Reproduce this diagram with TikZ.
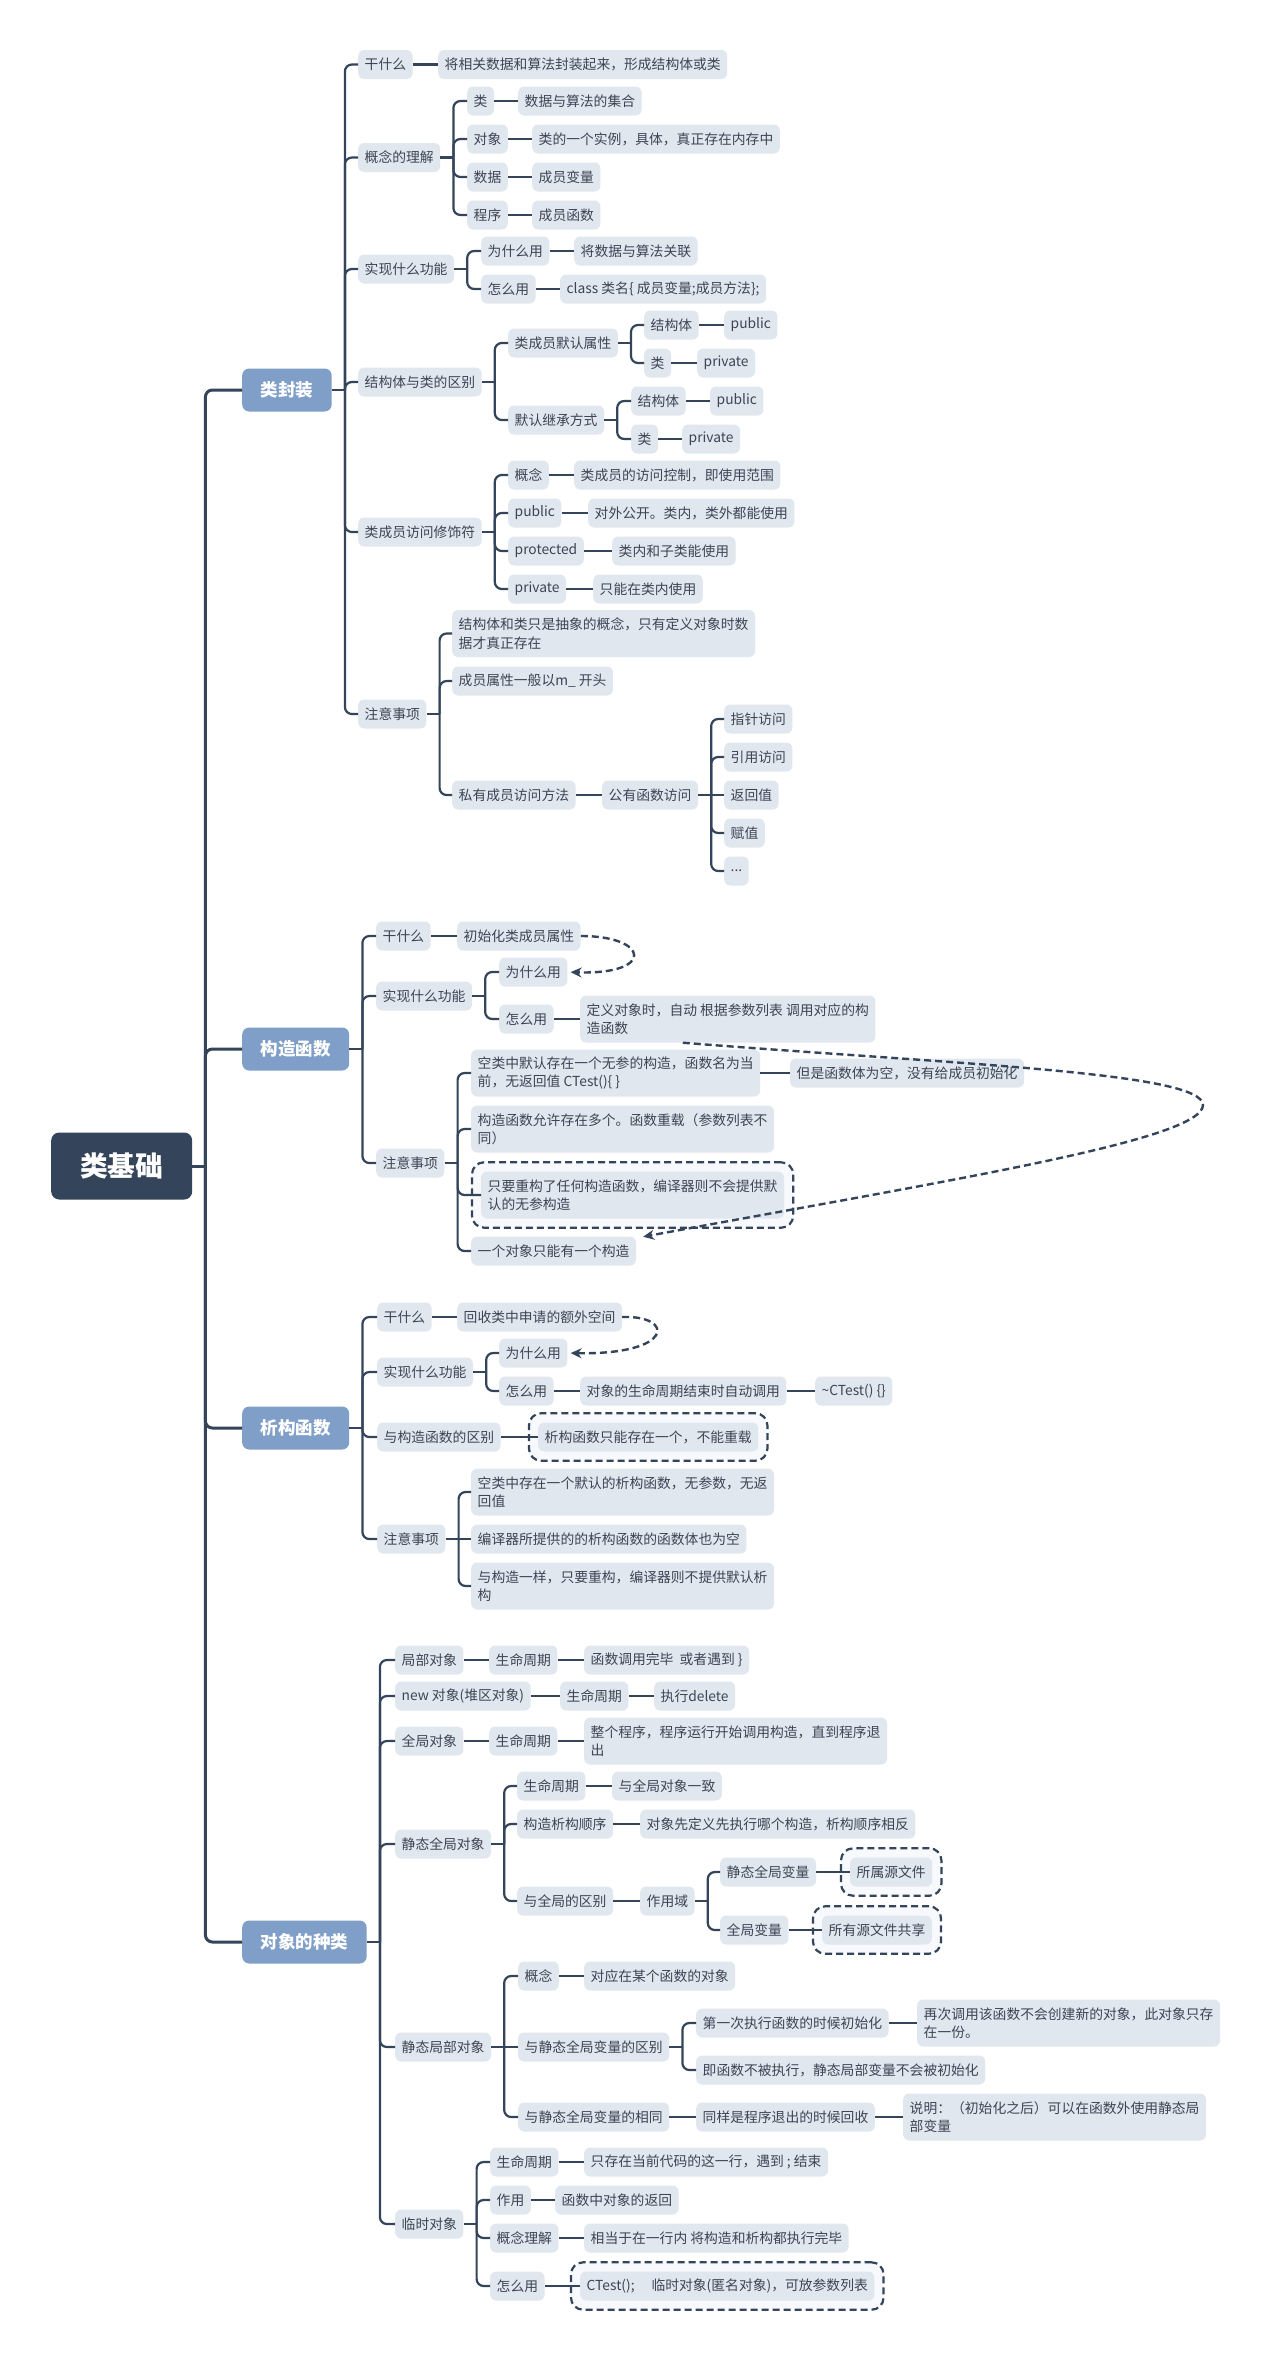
\documentclass[tikz,border=0pt]{standalone}
\usepackage{fontspec}
\newfontfamily\cjk{Noto Sans CJK SC}
\usetikzlibrary{arrows.meta,fit,backgrounds}

\definecolor{ink}{HTML}{34455B}
\definecolor{tx}{HTML}{3B4554}
\definecolor{pale}{HTML}{E1E7EF}
\definecolor{mid}{HTML}{809FC8}
\definecolor{bndfill}{HTML}{F7F9FC}

\pgfdeclarelayer{paper}
\pgfsetlayers{paper,background,main}

\newdimen\kidya
\newdimen\kidyb
% parent -> junction -> every child, with rounded elbows
\newcommand\kids[3][conn]{%
  \draw[#1] (#2.east) -- ++(13,0) coordinate (#2-j);
  \pgfextracty{\kidya}{\pgfpointanchor{#2}{east}}%
  \foreach \kid in {#3}{%
    \pgfextracty{\kidyb}{\pgfpointanchor{\kid}{west}}%
    \pgfmathtruncatemacro\flatkid{abs(\kidya-\kidyb)<3}%
    \ifnum\flatkid=1
      \draw[#1] (#2-j) -- (\kid.west);%
    \else
      \draw[#1,rounded corners=7pt] (#2-j) |- (\kid.west);%
    \fi}%
}
% a single child on the same line
\newcommand\link[2]{\draw[conn] (#1.east) -- (#2.west);}

\begin{document}
\begin{tikzpicture}[x=1pt,y=-1pt,
  leaf/.style={anchor=west, fill=pale, rounded corners=6pt, text=tx,
    font=\cjk\fontsize{13.8}{18.3}\selectfont, inner xsep=6.5pt, inner ysep=3pt,
    minimum height=29pt, align=left},
  tall/.style={minimum height=47pt},
  topic/.style={anchor=west, fill=mid, rounded corners=7pt, text=white,
    font=\cjk\bfseries\fontsize{17.5}{20}\selectfont, minimum height=43pt, inner xsep=18.5pt},
  rootbox/.style={anchor=west, fill=ink, rounded corners=8pt, text=white,
    font=\cjk\bfseries\fontsize{27.7}{30}\selectfont, minimum height=67pt, minimum width=141pt},
  conn/.style={draw=ink, line width=2.2pt},
  trunk/.style={draw=ink, line width=3pt},
  bnd/.style={draw=ink, fill=bndfill, line width=2.2pt, dash pattern=on 7pt off 4pt,
    rounded corners=12pt, inner sep=9pt},
  rel/.style={draw=ink, line width=2.4pt, dash pattern=on 7pt off 4pt,
    -{Stealth[length=11pt,width=10pt]}, shorten >=3pt}
]
\begin{pgfonlayer}{paper}
\fill[white] (0,0) rectangle (1270,2361);
\end{pgfonlayer}
\useasboundingbox (0,0) rectangle (1270,2361);

% ---------- root and main topics ----------
\node[rootbox] (root) at (51,1166) {类基础};
\node[topic] (A) at (242,390) {类封装};
\node[topic] (B) at (242,1049) {构造函数};
\node[topic] (C) at (242,1428) {析构函数};
\node[topic] (D) at (242,1942) {对象的种类};

% ---------- 类封装 ----------
\node[leaf] (a1) at (358,64.5) {干什么};
\node[leaf] (a1c) at (438,64.5) {将相关数据和算法封装起来，形成结构体或类};
\node[leaf] (a2) at (358,157.5) {概念的理解};
\node[leaf] (a2a) at (467,101) {类};
\node[leaf] (a2a1) at (518,101) {数据与算法的集合};
\node[leaf] (a2b) at (467,139) {对象};
\node[leaf] (a2b1) at (532,139) {类的一个实例，具体，真正存在内存中};
\node[leaf] (a2c) at (467,177) {数据};
\node[leaf] (a2c1) at (532,177) {成员变量};
\node[leaf] (a2d) at (467,215) {程序};
\node[leaf] (a2d1) at (532,215) {成员函数};
\node[leaf] (a3) at (358,269) {实现什么功能};
\node[leaf] (a3a) at (481,251) {为什么用};
\node[leaf] (a3a1) at (574,251) {将数据与算法关联};
\node[leaf] (a3b) at (481,289) {怎么用};
\node[leaf] (a3b1) at (560,289) {class 类名\{ 成员变量;成员方法\};};
\node[leaf] (a4) at (358,382) {结构体与类的区别};
\node[leaf] (a4a) at (508,343) {类成员默认属性};
\node[leaf] (a4a1) at (644,325) {结构体};
\node[leaf] (a4a1v) at (724,325) {public};
\node[leaf] (a4a2) at (644,363) {类};
\node[leaf] (a4a2v) at (697,363) {private};
\node[leaf] (a4b) at (508,420) {默认继承方式};
\node[leaf] (a4b1) at (631,401) {结构体};
\node[leaf] (a4b1v) at (710,401) {public};
\node[leaf] (a4b2) at (631,439) {类};
\node[leaf] (a4b2v) at (682,439) {private};
\node[leaf] (a5) at (358,532) {类成员访问修饰符};
\node[leaf] (a5a) at (508,475) {概念};
\node[leaf] (a5a1) at (574,475) {类成员的访问控制，即使用范围};
\node[leaf] (a5b) at (508,513) {public};
\node[leaf] (a5b1) at (588,513) {对外公开。类内，类外都能使用};
\node[leaf] (a5c) at (508,551) {protected};
\node[leaf] (a5c1) at (612,551) {类内和子类能使用};
\node[leaf] (a5d) at (508,589) {private};
\node[leaf] (a5d1) at (593,589) {只能在类内使用};
\node[leaf] (a6) at (358,714) {注意事项};
\node[leaf,tall] (a6a) at (452,633.5) {结构体和类只是抽象的概念，只有定义对象时数\\据才真正存在};
\node[leaf] (a6b) at (452,681) {成员属性一般以m\_ 开头};
\node[leaf] (a6c) at (452,795) {私有成员访问方法};
\node[leaf] (a6c1) at (602,795) {公有函数访问};
\node[leaf] (p1) at (724,719) {指针访问};
\node[leaf] (p2) at (724,757) {引用访问};
\node[leaf] (p3) at (724,795) {返回值};
\node[leaf] (p4) at (724,833) {赋值};
\node[leaf] (p5) at (724,871) {...};

% ---------- 构造函数 ----------
\node[leaf] (b1) at (376,936) {干什么};
\node[leaf] (b1c) at (457,936) {初始化类成员属性};
\node[leaf] (b2) at (376,996) {实现什么功能};
\node[leaf] (b2a) at (499,972) {为什么用};
\node[leaf] (b2b) at (499,1019) {怎么用};
\node[leaf,tall] (b2b1) at (580,1019) {定义对象时，自动 根据参数列表 调用对应的构\\造函数};
\node[leaf] (b3) at (376,1163) {注意事项};
\node[leaf,tall] (b3a) at (471,1073) {空类中默认存在一个无参的构造，函数名为当\\前，无返回值 CTest()\{ \}};
\node[leaf] (b3a1) at (790,1073) {但是函数体为空，没有给成员初始化};
\node[leaf,tall] (b3b) at (471,1129) {构造函数允许存在多个。函数重载（参数列表不\\同）};
\node[leaf,tall] (b3c) at (481,1195) {只要重构了任何构造函数，编译器则不会提供默\\认的无参构造};
\node[leaf] (b3d) at (471,1251) {一个对象只能有一个构造};

% ---------- 析构函数 ----------
\node[leaf] (c1) at (377,1317) {干什么};
\node[leaf] (c1c) at (457,1317) {回收类中申请的额外空间};
\node[leaf] (c2) at (377,1372) {实现什么功能};
\node[leaf] (c2a) at (499,1353) {为什么用};
\node[leaf] (c2b) at (499,1391) {怎么用};
\node[leaf] (c2b1) at (580,1391) {对象的生命周期结束时自动调用};
\node[leaf] (c2b2) at (815,1391) {\textasciitilde CTest() \{\}};
\node[leaf] (c3) at (377,1437) {与构造函数的区别};
\node[leaf] (c3a) at (538,1437) {析构函数只能存在一个，不能重载};
\node[leaf] (c4) at (377,1539) {注意事项};
\node[leaf,tall] (c4a) at (471,1492) {空类中存在一个默认的析构函数，无参数，无返\\回值};
\node[leaf] (c4b) at (471,1539) {编译器所提供的的析构函数的函数体也为空};
\node[leaf,tall] (c4c) at (471,1586) {与构造一样，只要重构，编译器则不提供默认析\\构};

% ---------- 对象的种类 ----------
\node[leaf] (d1) at (395,1660) {局部对象};
\node[leaf] (d1a) at (489,1660) {生命周期};
\node[leaf] (d1b) at (584,1660) {函数调用完毕~~或者遇到~\}};
\node[leaf] (d2) at (395,1696) {new 对象(堆区对象)};
\node[leaf] (d2a) at (560,1696) {生命周期};
\node[leaf] (d2b) at (654,1696) {执行delete};
\node[leaf] (d3) at (395,1741) {全局对象};
\node[leaf] (d3a) at (489,1741) {生命周期};
\node[leaf,tall] (d3b) at (584,1741) {整个程序，程序运行开始调用构造，直到程序退\\出};
\node[leaf] (d4) at (395,1844) {静态全局对象};
\node[leaf] (d4a) at (517,1786) {生命周期};
\node[leaf] (d4a1) at (612,1786) {与全局对象一致};
\node[leaf] (d4b) at (517,1824) {构造析构顺序};
\node[leaf] (d4b1) at (640,1824) {对象先定义先执行哪个构造，析构顺序相反};
\node[leaf] (d4c) at (517,1901) {与全局的区别};
\node[leaf] (d4c1) at (640,1901) {作用域};
\node[leaf] (sg) at (720,1872) {静态全局变量};
\node[leaf] (sg1) at (850,1872) {所属源文件};
\node[leaf] (gv) at (720,1930) {全局变量};
\node[leaf] (gv1) at (822,1930) {所有源文件共享};
\node[leaf] (d5) at (395,2047) {静态局部对象};
\node[leaf] (d5a) at (518,1976) {概念};
\node[leaf] (d5a1) at (584,1976) {对应在某个函数的对象};
\node[leaf] (d5b) at (518,2047) {与静态全局变量的区别};
\node[leaf] (d5b1) at (696,2023) {第一次执行函数的时候初始化};
\node[leaf,tall] (d5b1a) at (917,2023) {再次调用该函数不会创建新的对象，此对象只存\\在一份。};
\node[leaf] (d5b2) at (696,2070) {即函数不被执行，静态局部变量不会被初始化};
\node[leaf] (d5c) at (518,2117) {与静态全局变量的相同};
\node[leaf] (d5c1) at (696,2117) {同样是程序退出的时候回收};
\node[leaf,tall] (d5c2) at (903,2117) {说明：（初始化之后）可以在函数外使用静态局\\部变量};
\node[leaf] (d6) at (395,2224) {临时对象};
\node[leaf] (d6a) at (490,2162) {生命周期};
\node[leaf] (d6a1) at (584,2162) {只存在当前代码的这一行，遇到 ; 结束};
\node[leaf] (d6b) at (490,2200) {作用};
\node[leaf] (d6b1) at (555,2200) {函数中对象的返回};
\node[leaf] (d6c) at (490,2238) {概念理解};
\node[leaf] (d6c1) at (584,2238) {相当于在一行内 将构造和析构都执行完毕};
\node[leaf] (d6d) at (490,2286) {怎么用};
\node[leaf] (d6d1) at (580,2286) {CTest();\quad\ 临时对象(匿名对象)，可放参数列表};

% ---------- dashed boundaries ----------
\begin{scope}[on background layer]
  \node[bnd, fit=(b3c)] (bb1) {};
  \node[bnd, fit=(c3a)] (bb2) {};
  \node[bnd, fit=(sg1)] (bb3) {};
  \node[bnd, fit=(gv1)] (bb4) {};
  \node[bnd, fit=(d6d1)] (bb5) {};
\end{scope}

% ---------- connectors ----------
\kids[trunk]{root}{A,B,C,D}
\kids{A}{a1,a2,a3,a4,a5,a6}
\link{a1}{a1c}
\kids{a2}{a2a,a2b,a2c,a2d}
\link{a2a}{a2a1}
\link{a2b}{a2b1}
\link{a2c}{a2c1}
\link{a2d}{a2d1}
\kids{a3}{a3a,a3b}
\link{a3a}{a3a1}
\link{a3b}{a3b1}
\kids{a4}{a4a,a4b}
\kids{a4a}{a4a1,a4a2}
\link{a4a1}{a4a1v}
\link{a4a2}{a4a2v}
\kids{a4b}{a4b1,a4b2}
\link{a4b1}{a4b1v}
\link{a4b2}{a4b2v}
\kids{a5}{a5a,a5b,a5c,a5d}
\link{a5a}{a5a1}
\link{a5b}{a5b1}
\link{a5c}{a5c1}
\link{a5d}{a5d1}
\kids{a6}{a6a,a6b,a6c}
\link{a6c}{a6c1}
\kids{a6c1}{p1,p2,p3,p4,p5}

\kids{B}{b1,b2,b3}
\link{b1}{b1c}
\kids{b2}{b2a,b2b}
\link{b2b}{b2b1}
\kids{b3}{b3a,b3b,b3c,b3d}
\link{b3a}{b3a1}

\kids{C}{c1,c2,c3,c4}
\link{c1}{c1c}
\kids{c2}{c2a,c2b}
\link{c2b}{c2b1}
\link{c2b1}{c2b2}
\link{c3}{c3a}
\kids{c4}{c4a,c4b,c4c}

\kids{D}{d1,d2,d3,d4,d5,d6}
\link{d1}{d1a}
\link{d1a}{d1b}
\link{d2}{d2a}
\link{d2a}{d2b}
\link{d3}{d3a}
\link{d3a}{d3b}
\kids{d4}{d4a,d4b,d4c}
\link{d4a}{d4a1}
\link{d4b}{d4b1}
\link{d4c}{d4c1}
\kids{d4c1}{sg,gv}
\link{sg}{sg1}
\link{gv}{gv1}
\kids{d5}{d5a,d5b,d5c}
\link{d5a}{d5a1}
\kids{d5b}{d5b1,d5b2}
\link{d5b1}{d5b1a}
\link{d5c}{d5c1}
\link{d5c1}{d5c2}
\kids{d6}{d6a,d6b,d6c,d6d}
\link{d6a}{d6a1}
\link{d6b}{d6b1}
\link{d6c}{d6c1}
\link{d6d}{d6d1}

% ---------- relationship arrows ----------
\draw[rel] (b1c.east) .. controls (650,936) and (655,975) .. (b2a.east);
\draw[rel] (c1c.east) .. controls (675,1315) and (675,1355) .. (c2a.east);
\draw[rel] ([xshift=-45pt]b2b1.south) .. controls (950,1064) and (1203,1072) .. (1203,1105)
           .. controls (1203,1140) and (950,1180) .. ([xshift=4pt,yshift=-1pt]b3d.north east);
\end{tikzpicture}
\end{document}
